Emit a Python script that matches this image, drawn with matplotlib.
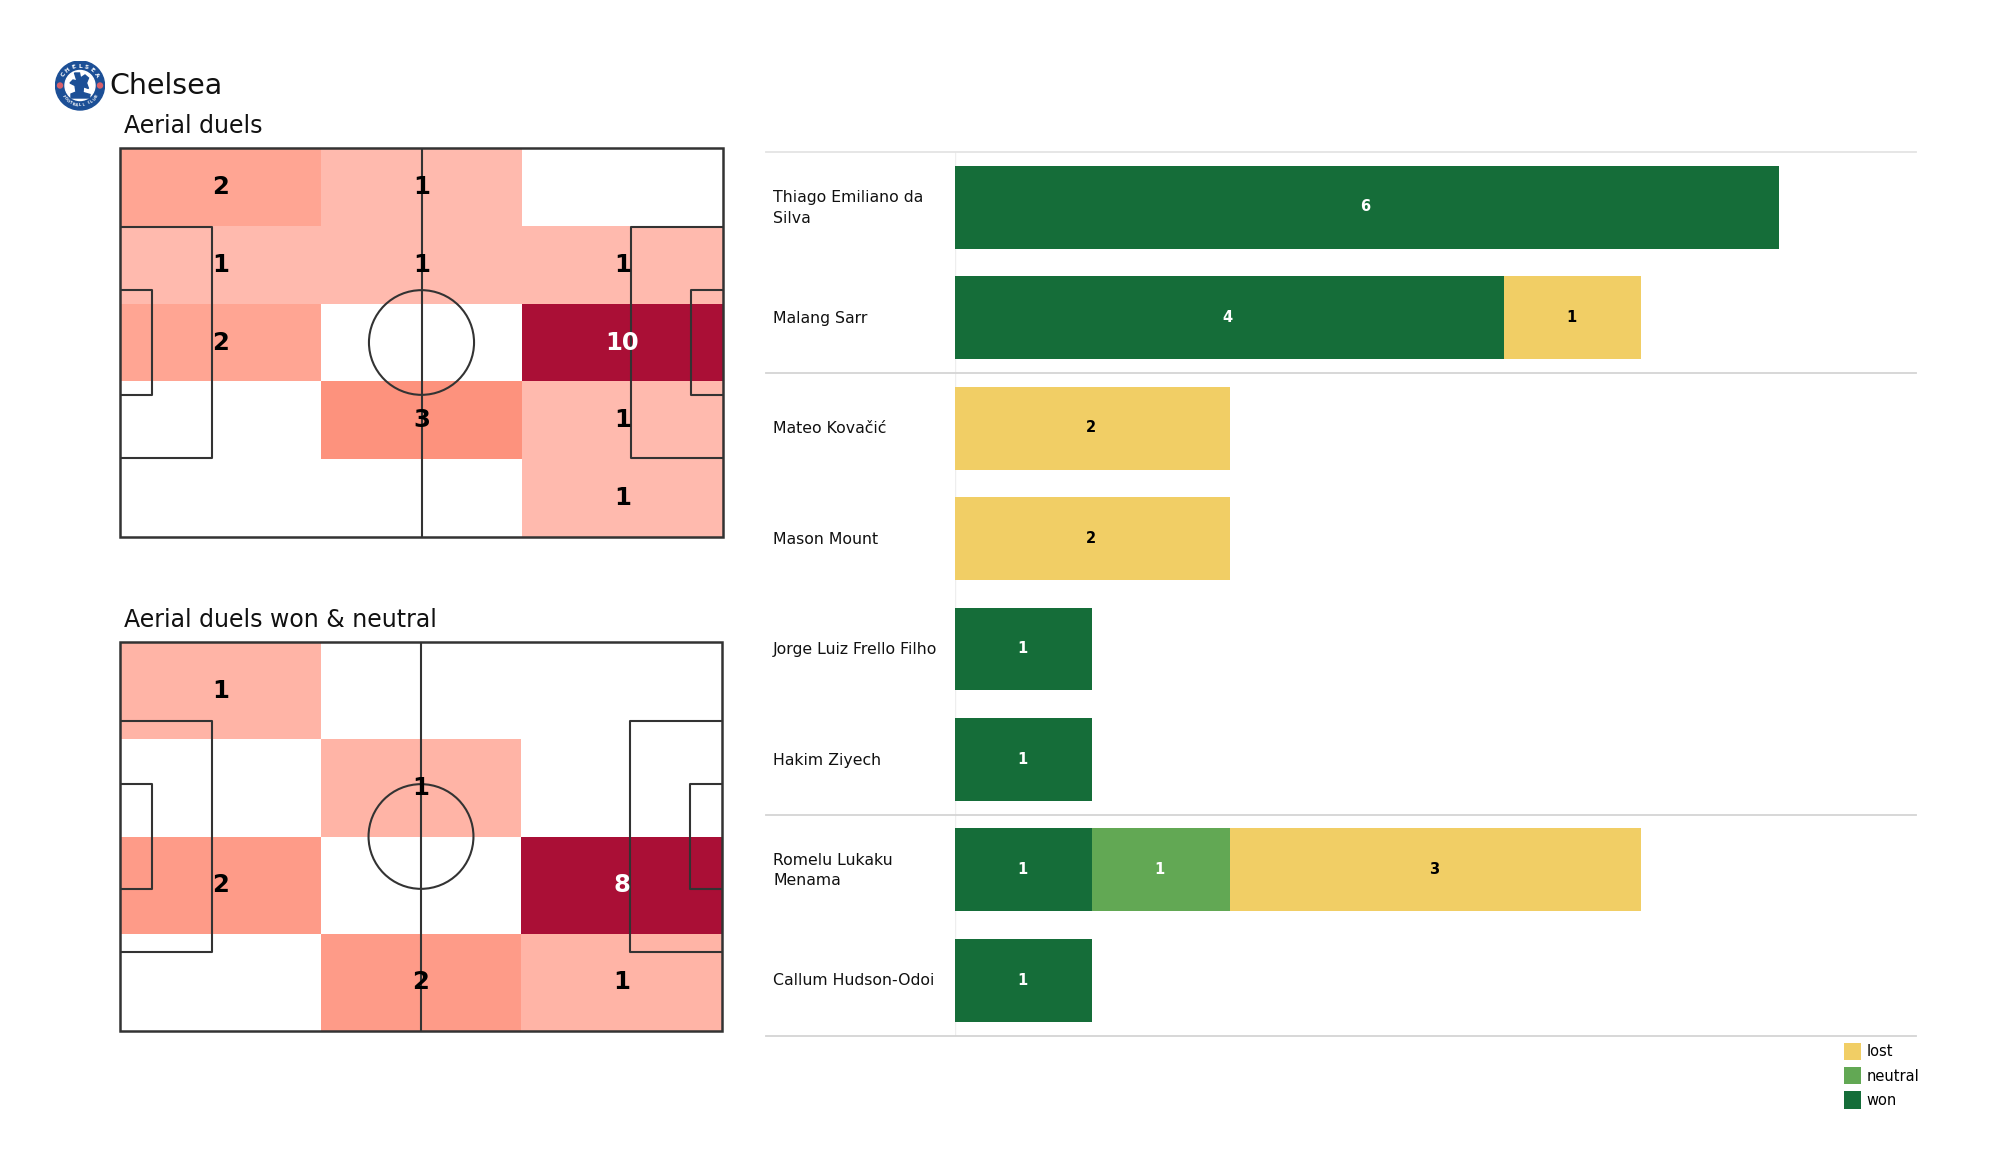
# Chelsea aerial duels: two pitch heatmaps and a stacked bar per player

import numpy as np
import matplotlib
matplotlib.use('Agg')
import matplotlib.pyplot as plt
from matplotlib.colors import LinearSegmentedColormap
from matplotlib.patches import Rectangle, Circle, Polygon

# data
all_duels = [[2, 1, 0],
             [1, 1, 1],
             [2, 0, 10],
             [0, 3, 1],
             [0, 0, 1]]
won_neutral = [[1, 0, 0],
               [0, 1, 0],
               [2, 0, 8],
               [0, 2, 1]]

players = ['Thiago Emiliano da\nSilva', 'Malang Sarr', 'Mateo Kovačić', 'Mason Mount',
           'Jorge Luiz Frello Filho', 'Hakim Ziyech', 'Romelu Lukaku\nMenama', 'Callum Hudson-Odoi']
won = [6, 4, 0, 0, 1, 1, 1, 1]
neutral = [0, 0, 0, 0, 0, 0, 1, 0]
lost = [0, 1, 2, 2, 0, 0, 3, 0]
group_lines = [0, 2, 6, 8]

WON_COL = '#156d39'
NEUTRAL_COL = '#62a854'
LOST_COL = '#f1ce65'
CREST = '#1c4f96'

W, H = 2000, 1175
PITCH_L, PITCH_W = 105, 68

heat_cmap = LinearSegmentedColormap.from_list(
    'heat', [(0, '#ffffff'), (0.1, '#ffb9ac'), (0.2, '#ffa593'), (0.3, '#fd927d'),
             (0.6, '#e0503f'), (1, '#aa0f36')])

fig = plt.figure(figsize=(20, 11.75), dpi=100)


def px_axes(x0, y0, x1, y1):
    # axes from pixel box, y measured from the top of the picture
    return fig.add_axes([x0 / W, 1 - y1 / H, (x1 - x0) / W, (y1 - y0) / H])


def draw_pitch(ax):
    lc = '#333333'
    lw = 1.5
    ax.add_patch(Rectangle((0, 0), PITCH_L, PITCH_W, fill=False, ec=lc, lw=lw + 0.3, clip_on=False))
    ax.plot([PITCH_L / 2, PITCH_L / 2], [0, PITCH_W], color=lc, lw=lw)
    ax.add_patch(Circle((PITCH_L / 2, PITCH_W / 2), 9.15, fill=False, ec=lc, lw=lw))
    for x0, x1 in [(0, 16.0), (PITCH_L, PITCH_L - 16.0)]:
        ax.plot([x0, x1, x1, x0], [13.84, 13.84, 54.16, 54.16], color=lc, lw=lw)
    for x0, x1 in [(0, 5.5), (PITCH_L, PITCH_L - 5.5)]:
        ax.plot([x0, x1, x1, x0], [24.84, 24.84, 43.16, 43.16], color=lc, lw=lw)


def heat_pitch(box, values, title):
    ax = px_axes(*box)
    vals = np.array(values, dtype=float)
    rows, cols = vals.shape
    xe = np.linspace(0, PITCH_L, cols + 1)
    ye = np.linspace(PITCH_W, 0, rows + 1)
    ax.pcolormesh(xe, ye, vals, cmap=heat_cmap, vmin=0, vmax=vals.max())
    draw_pitch(ax)
    for r in range(rows):
        for c in range(cols):
            v = int(vals[r, c])
            if v == 0:
                continue
            col = 'white' if v == vals.max() else 'black'
            ax.text((xe[c] + xe[c + 1]) / 2, (ye[r] + ye[r + 1]) / 2, str(v), color=col,
                    ha='center', va='center', fontsize=17.5, fontweight='bold')
    ax.set_xlim(0, PITCH_L)
    ax.set_ylim(0, PITCH_W)
    ax.axis('off')
    fig.text(124 / W, 1 - (box[1] - 10) / H, title, fontsize=17, color='#111111', ha='left', va='bottom')


heat_pitch((120, 148, 723, 537), all_duels, 'Aerial duels')
heat_pitch((120, 642, 722, 1031), won_neutral, 'Aerial duels won & neutral')

# team name and crest
fig.text(109 / W, 1 - 85.5 / H, 'Chelsea', fontsize=20.5, color='#111111', ha='left', va='center')
logo = px_axes(55, 60.5, 105, 110.5)
logo.set_xlim(-1, 1)
logo.set_ylim(-1, 1)
logo.axis('off')
logo.add_patch(Circle((0, 0), 0.98, color=CREST))
logo.add_patch(Circle((0, 0), 0.6, color='white'))
for a in [0, 180]:
    logo.add_patch(Circle((0.8 * np.cos(np.radians(a)), 0.8 * np.sin(np.radians(a))), 0.1, color='#d9606a'))
# crest lettering round the ring
for i, ch in enumerate('CHELSEA'):
    a = 90 + (3 - i) * 19
    logo.text(0.78 * np.cos(np.radians(a)), 0.78 * np.sin(np.radians(a)), ch, color='white', fontsize=4.2,
              fontweight='bold', ha='center', va='center', rotation=a - 90)
for i, ch in enumerate('FOOTBALL CLUB'):
    a = 270 + (i - 6) * 9.5
    logo.text(0.79 * np.cos(np.radians(a)), 0.79 * np.sin(np.radians(a)), ch, color='white', fontsize=2.6,
              fontweight='bold', ha='center', va='center', rotation=a + 90)
# rough lion
logo.add_patch(Polygon([(-0.22, 0.5), (-0.02, 0.5), (0.02, 0.3), (0.2, 0.42), (0.34, 0.3), (0.26, 0.1),
                        (0.34, -0.12), (0.14, -0.05), (0.12, -0.28), (0.4, -0.36), (0.38, -0.5),
                        (-0.36, -0.5), (-0.36, -0.34), (-0.16, -0.26), (-0.2, 0.0), (-0.4, 0.1),
                        (-0.28, 0.22), (-0.12, 0.18)], color=CREST))

# bars
ax = px_axes(955, 152, 1916, 1035.5)
y = np.arange(len(players)) + 0.5
won_a = np.array(won)
neutral_a = np.array(neutral)
lost_a = np.array(lost)
b1 = ax.barh(y, won_a, height=0.75, color=WON_COL, label='won')
b2 = ax.barh(y, neutral_a, height=0.75, left=won_a, color=NEUTRAL_COL, label='neutral')
b3 = ax.barh(y, lost_a, height=0.75, left=won_a + neutral_a, color=LOST_COL, label='lost')
for vals, lefts, col in [(won_a, 0 * won_a, 'white'), (neutral_a, won_a, 'white'),
                         (lost_a, won_a + neutral_a, 'black')]:
    for yy, v, l in zip(y, vals, lefts):
        if v:
            ax.annotate(str(v), (l + v / 2, yy), xytext=(-1.2, 0.2), textcoords='offset points', color=col,
                        ha='center', va='center', fontsize=10.5, fontweight='bold')
ax.set_xlim(0, 7)
ax.set_ylim(len(players), 0)
ax.set_xticks([])
ax.set_yticks([])
for s in ax.spines.values():
    s.set_visible(False)
ax.axvline(0, color='#eeeeee', lw=1, zorder=0)
trans = ax.get_yaxis_transform()
for g in group_lines:
    ax.plot([-189 / 961, 1], [g, g], color='#d4d4d4' if g in (2, 6, 8) else '#e4e4e4', lw=1.3,
            transform=trans, clip_on=False, zorder=0)
for yy, name in zip(y, players):
    ax.annotate(name, (-182 / 137.3, yy), xytext=(0, -0.5), textcoords='offset points', ha='left', va='center',
                fontsize=11.3, color='#111111', linespacing=1.45, annotation_clip=False)

handles = [b3, b2, b1]
fig.legend(handles, ['lost', 'neutral', 'won'], loc='upper left', bbox_to_anchor=(1844 / W, 1 - 1043 / H),
           frameon=False, fontsize=10.5, handlelength=1.14, handleheight=1.45, handletextpad=0.42,
           labelspacing=0.47, borderpad=0, borderaxespad=0)

fig.savefig('out.png', dpi=100, facecolor='white')
